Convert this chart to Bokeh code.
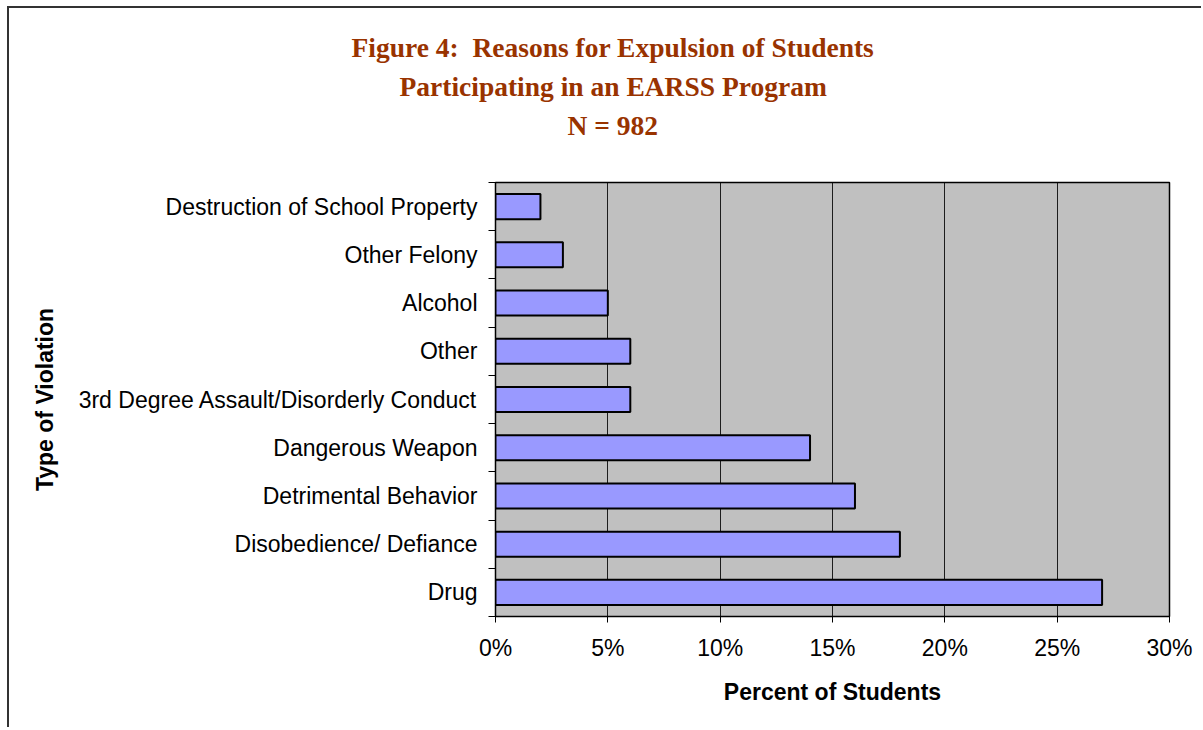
from bokeh.plotting import figure
from bokeh.models import FixedTicker, PrintfTickFormatter, Range1d, Title
from bokeh.embed import file_html
from bokeh.resources import INLINE

# Violation types, listed bottom to top
categories = [
    "Drug",
    "Disobedience/ Defiance",
    "Detrimental Behavior",
    "Dangerous Weapon",
    "3rd Degree Assault/Disorderly Conduct",
    "Other",
    "Alcohol",
    "Other Felony",
    "Destruction of School Property",
]
# Percent of students expelled for each violation
percents = [27, 18, 16, 14, 6, 6, 5, 3, 2]
x_ticks = [0, 5, 10, 15, 20, 25, 30]

title_lines = [
    "Figure 4:\u00a0 Reasons for Expulsion of Students",
    "Participating in an EARSS Program",
    "N = 982",
]
# horizontal shift of each heading line from the frame's left edge (px)
title_offsets = [-144, -96, 72]

n = len(categories)
centers = [i + 0.5 for i in range(n)]
bounds = list(range(n + 1))

p = figure(
    width=1194, height=721,
    x_range=Range1d(0, 30), y_range=Range1d(0, n),
    output_backend="svg", toolbar_location=None,
    min_border_left=486, min_border_right=34,
    min_border_top=174, min_border_bottom=113,
    background_fill_color="#C0C0C0",
    border_fill_color="white",
)
p.margin = (6, 0, 0, 7)
p.styles = {"border-left": "2px solid #333333", "border-top": "2px solid #333333"}

p.hbar(y=centers, right=percents, left=0, height=0.52,
       fill_color="#9999FF", line_color="black", line_width=2)

p.outline_line_color = "black"
p.outline_line_width = 1.5

# Vertical gridlines at each 5%
p.xgrid.ticker = FixedTicker(ticks=x_ticks)
p.xgrid.grid_line_color = "black"
p.xgrid.grid_line_width = 1
p.xgrid.grid_line_alpha = 0.85
p.ygrid.grid_line_color = None

tick_font = "Liberation Sans"
font_px = "23px"

xa = p.xaxis[0]
xa.ticker = FixedTicker(ticks=x_ticks)
xa.formatter = PrintfTickFormatter(format="%d%%")
xa.major_tick_in = 0
xa.major_tick_out = 6
xa.minor_tick_line_color = None
xa.axis_line_color = "black"
xa.major_label_text_font = tick_font
xa.major_label_text_font_size = font_px
xa.major_label_text_color = "black"
xa.major_label_standoff = 12
xa.axis_label = "Percent of Students"
xa.axis_label_text_font = tick_font
xa.axis_label_text_font_size = font_px
xa.axis_label_text_font_style = "bold"
xa.axis_label_text_color = "black"
xa.axis_label_standoff = 15

# Labels sit at category centres; tick marks fall on the boundaries
ya = p.yaxis[0]
ya.ticker = FixedTicker(ticks=centers, minor_ticks=bounds)
ya.major_label_overrides = {c: lab for c, lab in zip(centers, categories)}
ya.major_tick_line_color = None
ya.major_tick_in = 0
ya.major_tick_out = 7
ya.minor_tick_in = 0
ya.minor_tick_out = 7
ya.minor_tick_line_color = "black"
ya.axis_line_color = "black"
ya.major_label_text_font = tick_font
ya.major_label_text_font_size = font_px
ya.major_label_text_color = "black"
ya.major_label_standoff = 11
ya.axis_label = "Type of Violation"
ya.axis_label_text_font = tick_font
ya.axis_label_text_font_size = font_px
ya.axis_label_text_font_style = "bold"
ya.axis_label_text_color = "black"
ya.axis_label_standoff = 18

# Blank spacer between the frame and the heading
p.add_layout(Title(text="\u00a0", text_font_size="1px", standoff=36), "above")

# Heading lines, added from the frame outward
for line, off in reversed(list(zip(title_lines, title_offsets))):
    p.add_layout(Title(text=line, align="left", offset=off,
                       text_font="Liberation Serif",
                       text_font_size="27.5px", text_font_style="bold",
                       text_color="#993300", standoff=6), "above")

open("out.html", "w").write(file_html(p, INLINE))
